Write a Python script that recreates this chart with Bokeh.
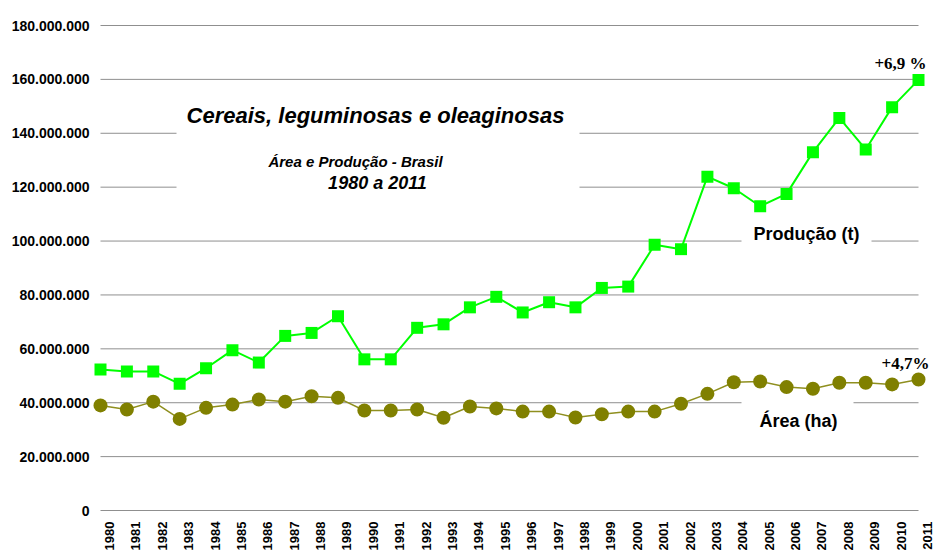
import math
from bokeh.plotting import figure
from bokeh.models import Range1d, ColumnDataSource, LabelSet, Label
from bokeh.core.properties import value
from bokeh.embed import file_html
from bokeh.resources import INLINE

# ---------------- data ----------------
years = list(range(1980, 2012))
year_labels = [str(y) for y in years]
producao = [52_300_000, 51_600_000, 51_600_000, 47_000_000, 52_800_000, 59_500_000,
            54_900_000, 64_800_000, 65_900_000, 72_100_000, 56_100_000, 56_100_000,
            67_800_000, 69_100_000, 75_400_000, 79_300_000, 73_500_000, 77_300_000,
            75_400_000, 82_600_000, 83_100_000, 98_600_000, 97_000_000, 123_900_000,
            119_600_000, 112_900_000, 117_500_000, 133_000_000, 145_700_000,
            134_000_000, 149_700_000, 159_800_000]
area = [39_000_000, 37_500_000, 40_400_000, 34_000_000, 38_100_000, 39_300_000,
        41_200_000, 40_400_000, 42_400_000, 41_800_000, 37_100_000, 37_100_000,
        37_500_000, 34_400_000, 38_600_000, 37_900_000, 36_700_000, 36_700_000,
        34_500_000, 35_700_000, 36_700_000, 36_700_000, 39_600_000, 43_300_000,
        47_600_000, 47_900_000, 45_800_000, 45_200_000, 47_400_000, 47_400_000,
        46_800_000, 48_600_000]
y_ticks = [0, 20_000_000, 40_000_000, 60_000_000, 80_000_000, 100_000_000,
           120_000_000, 140_000_000, 160_000_000, 180_000_000]
y_tick_labels = ["0", "20.000.000", "40.000.000", "60.000.000", "80.000.000",
                 "100.000.000", "120.000.000", "140.000.000", "160.000.000",
                 "180.000.000"]
title = "Cereais, leguminosas e oleaginosas"
subtitle = "Área e Produção - Brasil"
period = "1980 a 2011"
label_prod = "Produção (t)"
label_area = "Área (ha)"
growth_prod = "+6,9 %"
growth_area = "+4,7%"

# ---------------- layout (frame = whole canvas) ----------------
W, H = 935, 553
x_first_px, x_last_px = 100, 918
XPX = (x_last_px - x_first_px) / (years[-1] - years[0])
x0 = years[0] - x_first_px / XPX
x1 = x0 + W / XPX
y_zero_px, y_top_px = 510, 25
YPX = (y_zero_px - y_top_px) / (y_ticks[-1] - y_ticks[0])
y1 = y_ticks[-1] + y_top_px / YPX
y0 = y1 - H / YPX


def dx(px):
    return x0 + px / XPX


def dy(py):
    return y1 - py / YPX


p = figure(width=W, height=H, x_range=Range1d(x0, x1), y_range=Range1d(y0, y1),
           x_axis_location=None, y_axis_location=None, toolbar_location=None,
           output_backend="svg", min_border=0)
p.outline_line_color = None
p.xgrid.visible = False
p.ygrid.visible = False
p.background_fill_color = "white"
p.border_fill_color = "white"

# gridlines
p.segment(x0=years[0], y0=y_ticks, x1=years[-1], y1=y_ticks,
          line_color="#8f8f8f", line_width=1)

# white text boxes hiding gridlines
p.quad(left=[dx(176), dx(741), dx(741)], right=[dx(579), dx(871), dx(853)],
       top=[dy(90), dy(205), dy(399)], bottom=[dy(200), dy(250), dy(430)],
       fill_color="white", line_color=None)

# series
p.line(years, area, line_color="#8f8f1f", line_width=1.5)
p.scatter(years, area, marker="circle", size=14, fill_color="#808000", line_color=None)
p.line(years, producao, line_color="#00ff00", line_width=2)
p.scatter(years, producao, marker="square", size=12, fill_color="#00ff00", line_color=None)

# tick labels
xsrc = ColumnDataSource(dict(x=years, y=[y_ticks[0]] * len(years), text=year_labels))
p.add_layout(LabelSet(x="x", y="y", text="text", source=xsrc, angle=math.pi / 2,
                      text_align="right", text_baseline="middle", x_offset=9, y_offset=-11,
                      text_font=value("Liberation Sans"), text_font_style="bold",
                      text_font_size="13px", text_color="black"))
ysrc = ColumnDataSource(dict(x=[years[0]] * len(y_ticks), y=y_ticks, text=y_tick_labels))
p.add_layout(LabelSet(x="x", y="y", text="text", source=ysrc, x_offset=-11,
                      text_align="right", text_baseline="middle",
                      text_font=value("Liberation Sans"), text_font_style="bold",
                      text_font_size="14px", text_color="black"))


# titles and annotations
def add_text(txt, px, py, size, style="bold", font="Liberation Sans"):
    p.add_layout(Label(x=dx(px), y=dy(py), text=txt, text_align="center",
                       text_baseline="alphabetic", text_font=font,
                       text_font_style=style, text_font_size=size, text_color="black"))


add_text(title, 375, 115, "22px", "bold italic")
add_text(subtitle, 355, 161, "15px", "bold italic")
add_text(period, 377, 182, "18px", "bold italic")
add_text(label_prod, 806, 233, "18px")
add_text(label_area, 798, 420, "18px")
add_text(growth_prod, 900, 63, "17px", "bold", "Liberation Serif")
add_text(growth_area, 905, 363, "17px", "bold", "Liberation Serif")

open("out.html", "w").write(file_html(p, INLINE))
